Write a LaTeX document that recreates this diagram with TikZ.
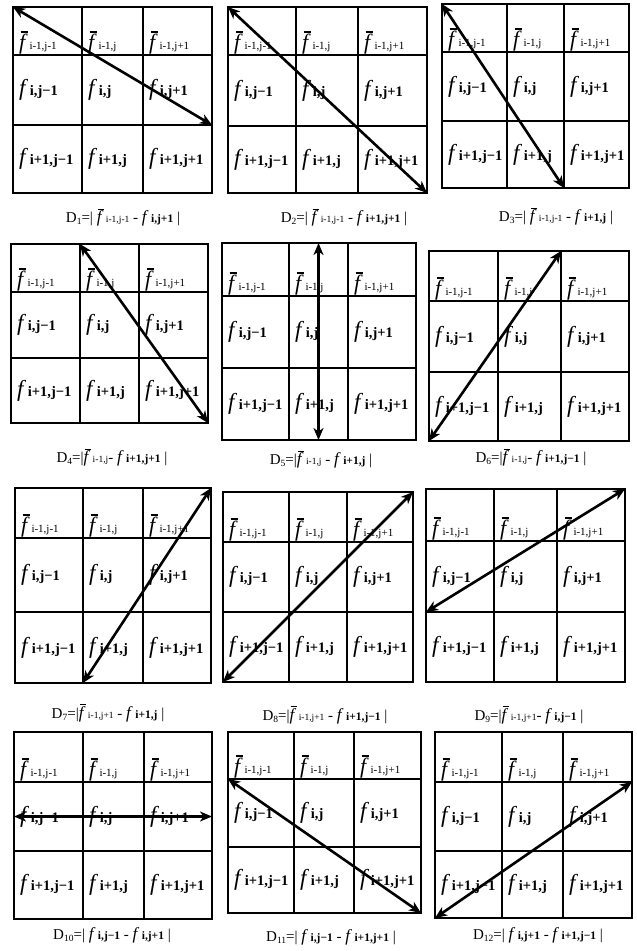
\documentclass[tikz,border=0pt]{standalone}
\usepackage{fontspec}
\setmainfont{Liberation Serif}
\usetikzlibrary{arrows.meta,calc}

% f with a bar over it
\newcommand{\fb}{\makebox[0pt][l]{\kern0.06em\rule[0.74em]{0.36em}{0.06em}}\textit{f}}
% cell texts
\newcommand{\cellbar}[1]{{\fontsize{22}{22}\selectfont\fb}\,{\fontsize{11}{11}\selectfont #1}}
\newcommand{\cellf}[1]{{\fontsize{23}{23}\selectfont\textit{f}}\,{\fontsize{14.5}{14.5}\selectfont\bfseries #1}}
% caption texts
\newcommand{\capbar}[1]{{\fontsize{17}{17}\selectfont\fb}\,{\fontsize{9.5}{9.5}\selectfont #1}}
\newcommand{\capf}[1]{{\fontsize{17}{17}\selectfont\textit{f}}\,{\fontsize{11.5}{11.5}\selectfont\bfseries #1}}
\newcommand{\dn}[1]{D\raisebox{-2pt}{\fontsize{9.5}{9.5}\selectfont #1}}

\tikzset{
  gridline/.style={line width=1.7pt},
  gridbox/.style={line width=2.4pt},
  darrow/.style={line width=2.6pt,
    {Stealth[length=12pt,width=10pt,inset=3.5pt]}-{Stealth[length=12pt,width=10pt,inset=3.5pt]}},
  cell/.style={inner sep=0pt, anchor=base west},
  cellm/.style={inner sep=0pt, anchor=west},
  capt/.style={inner sep=0pt, font=\fontsize{15}{17}\selectfont},
}

% #1 name, #2..#5 column lines, #6..#9 row lines
\newcommand{\mgrid}[9]{%
  \draw[gridline] (#3,#6) -- (#3,#9) (#4,#6) -- (#4,#9)
                  (#2,#7) -- (#5,#7) (#2,#8) -- (#5,#8);
  \draw[gridbox] (#2,#6) rectangle (#5,#9);
  % grid points
  \foreach \i/\xx in {0/#2,1/#3,2/#4,3/#5}
    \foreach \j/\yy in {0/#6,1/#7,2/#8,3/#9}
      \coordinate (#1-\i\j) at (\xx,\yy);
  % cell labels
  \foreach \c/\s in {0/{i-1,j-1},1/{i-1,j},2/{i-1,j+1}}
    \node[cell] (#1-a\c) at ([shift={(6,-6)}]#1-\c1) {\cellbar{\s}};
  \foreach \c/\s in {0/{i,j−1},1/{i,j},2/{i,j+1}}
    \node[cellm] (#1-b\c) at ($(#1-\c1)!0.5!(#1-\c2)+(6,0)$) {\cellf{\s}};
  \foreach \c/\s in {0/{i+1,j−1},1/{i+1,j},2/{i+1,j+1}}
    \node[cellm] (#1-c\c) at ($(#1-\c2)!0.5!(#1-\c3)+(6,0)$) {\cellf{\s}};
}

\begin{document}
\begin{tikzpicture}[x=1pt,y=-1pt]
  \fill[white] (0,0) rectangle (637,951);
  \useasboundingbox (0,0) rectangle (637,951);

  % Row 1
  \mgrid{g1}{13}{82}{143}{212}{7}{55}{125}{193}
  \mgrid{g2}{228}{296}{358}{427}{7}{55}{126}{193}
  \mgrid{g3}{442}{507}{564}{629}{4}{52}{121}{188}
  \draw[darrow] (g1-00) -- (g1-32);
  \draw[darrow] (g2-00) -- (g2-33);
  \draw[darrow] (g3-00) -- (g3-23);
  \node[capt] (cap1) at (123,218) {\dn{1}=| \capbar{i-1,j-1} - \capf{i,j+1} |};
  \node[capt] (cap2) at (344,218) {\dn{2}=| \capbar{i-1,j-1} - \capf{i+1,j+1} |};
  \node[capt] (cap3) at (556,217) {\dn{3}=| \capbar{i-1,j-1} - \capf{i+1,j} |};

  % Row 2
  \mgrid{g4}{11}{80}{139}{208}{244}{292}{358}{423}
  \mgrid{g5}{222}{289}{348}{416}{243}{296}{368}{440}
  \mgrid{g6}{429}{498}{561}{629}{251}{301}{372}{441}
  \coordinate (g5-top) at ($(g5-10)!0.5!(g5-20)$);
  \coordinate (g5-bot) at ($(g5-13)!0.5!(g5-23)$);
  \draw[darrow] (g4-10) -- (g4-33);
  \draw[darrow] (g5-top) -- (g5-bot);
  \draw[darrow] (g6-20) -- (g6-03);
  \node[capt] (cap4) at (112,458) {\dn{4}=|\capbar{i-1,j}- \capf{i+1,j+1} |};
  \node[capt] (cap5) at (321,460) {\dn{5}=|\capbar{i-1,j} - \capf{i+1,j} |};
  \node[capt] (cap6) at (531,458) {\dn{6}=|\capbar{i-1,j}- \capf{i+1,j−1} |};

  % Row 3
  \mgrid{g7}{15}{83}{143}{211}{488}{538}{612}{683}
  \mgrid{g8}{223}{289}{347}{413}{492}{542}{612}{682}
  \mgrid{g9}{426}{494}{557}{625}{489}{541}{612}{682}
  \draw[darrow] (g7-30) -- (g7-13);
  \draw[darrow] (g8-30) -- (g8-03);
  \draw[darrow] (g9-30) -- (g9-02);
  \node[capt] (cap7) at (108,713) {\dn{7}=|\capbar{i-1,j+1} - \capf{i+1,j} |};
  \node[capt] (cap8) at (325,715) {\dn{8}=|\capbar{i-1,j+1} - \capf{i+1,j−1} |};
  \node[capt] (cap9) at (529,715) {\dn{9}=|\capbar{i-1,j+1}- \capf{i,j−1} |};

  % Row 4
  \mgrid{g10}{14}{83}{144}{212}{732}{782}{851}{919}
  \mgrid{g11}{228}{294}{354}{421}{732}{779}{847}{913}
  \mgrid{g12}{435}{502}{563}{632}{732}{782}{851}{918}
  \coordinate (g10-lft) at ($(g10-01)!0.5!(g10-02)$);
  \coordinate (g10-rgt) at ($(g10-31)!0.5!(g10-32)$);
  \draw[darrow] (g10-lft) -- (g10-rgt);
  \draw[darrow] (g11-01) -- (g11-33);
  \draw[darrow] (g12-31) -- (g12-03);
  \node[capt] (cap10) at (112,935) {\dn{10}=| \capf{i,j−1} - \capf{i,j+1} |};
  \node[capt] (cap11) at (331,937) {\dn{11}=| \capf{i,j−1} - \capf{i+1,j+1} |};
  \node[capt] (cap12) at (538,935) {\dn{12}=| \capf{i,j+1} - \capf{i+1,j−1} |};
\end{tikzpicture}
\end{document}
